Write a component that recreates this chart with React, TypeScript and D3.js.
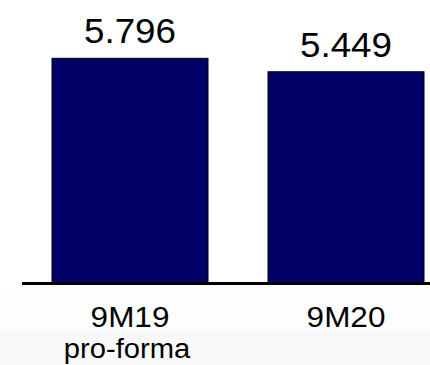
import React from "react";
import * as d3 from "d3";

const categories = ["9M19", "9M20"];
const subLabels = ["pro-forma", ""];
const values = [5.796, 5.449];
const valueLabels = ["5.796", "5.449"];

const W = 430;
const H = 365;

export default function App() {
  const x = d3
    .scaleBand<string>()
    .domain(categories)
    .range([22, 454])
    .paddingInner(0.2778)
    .paddingOuter(0.1389);
  const y = d3.scaleLinear().domain([0, 6]).range([283, 50.4]);
  const font = "'Liberation Sans', Arial, sans-serif";

  return (
    <div style={{ position: "absolute", left: 0, top: 0 }}>
      <svg width={W} height={H} style={{ display: "block" }}>
        <rect x={0} y={0} width={W} height={H} fill="#ffffff" />
        <rect x={0} y={289} width={W} height={H - 289} fill="#fdfdfd" />
        <rect x={0} y={330} width={W} height={H - 330} fill="#f9f9f9" />
        {categories.map((c, i) => {
          const bx = x(c)!;
          const bw = x.bandwidth();
          const cx = bx + bw / 2;
          return (
            <g key={c}>
              <rect
                x={bx}
                y={y(values[i])}
                width={bw}
                height={y(0) - y(values[i])}
                fill="#000066"
                stroke="#000000"
                strokeWidth={1}
              />
              <text
                transform={`translate(${cx},${y(values[i]) - 15}) scale(1.05,1)`}
                textAnchor="middle"
                fontFamily={font}
                fontSize={35}
                fill="#000"
              >
                {valueLabels[i]}
              </text>
              <text
                transform={`translate(${cx},327) scale(1.05,1)`}
                textAnchor="middle"
                fontFamily={font}
                fontSize={30}
                fill="#000"
              >
                {c}
              </text>
              {subLabels[i] && (
                <text
                  transform={`translate(${cx - 3},358) scale(1.08,1)`}
                  textAnchor="middle"
                  fontFamily={font}
                  fontSize={27}
                  fill="#000"
                >
                  {subLabels[i]}
                </text>
              )}
            </g>
          );
        })}
        <line x1={22} x2={W} y1={y(0) + 0.5} y2={y(0) + 0.5} stroke="#000" strokeWidth={3} />
      </svg>
    </div>
  );
}
